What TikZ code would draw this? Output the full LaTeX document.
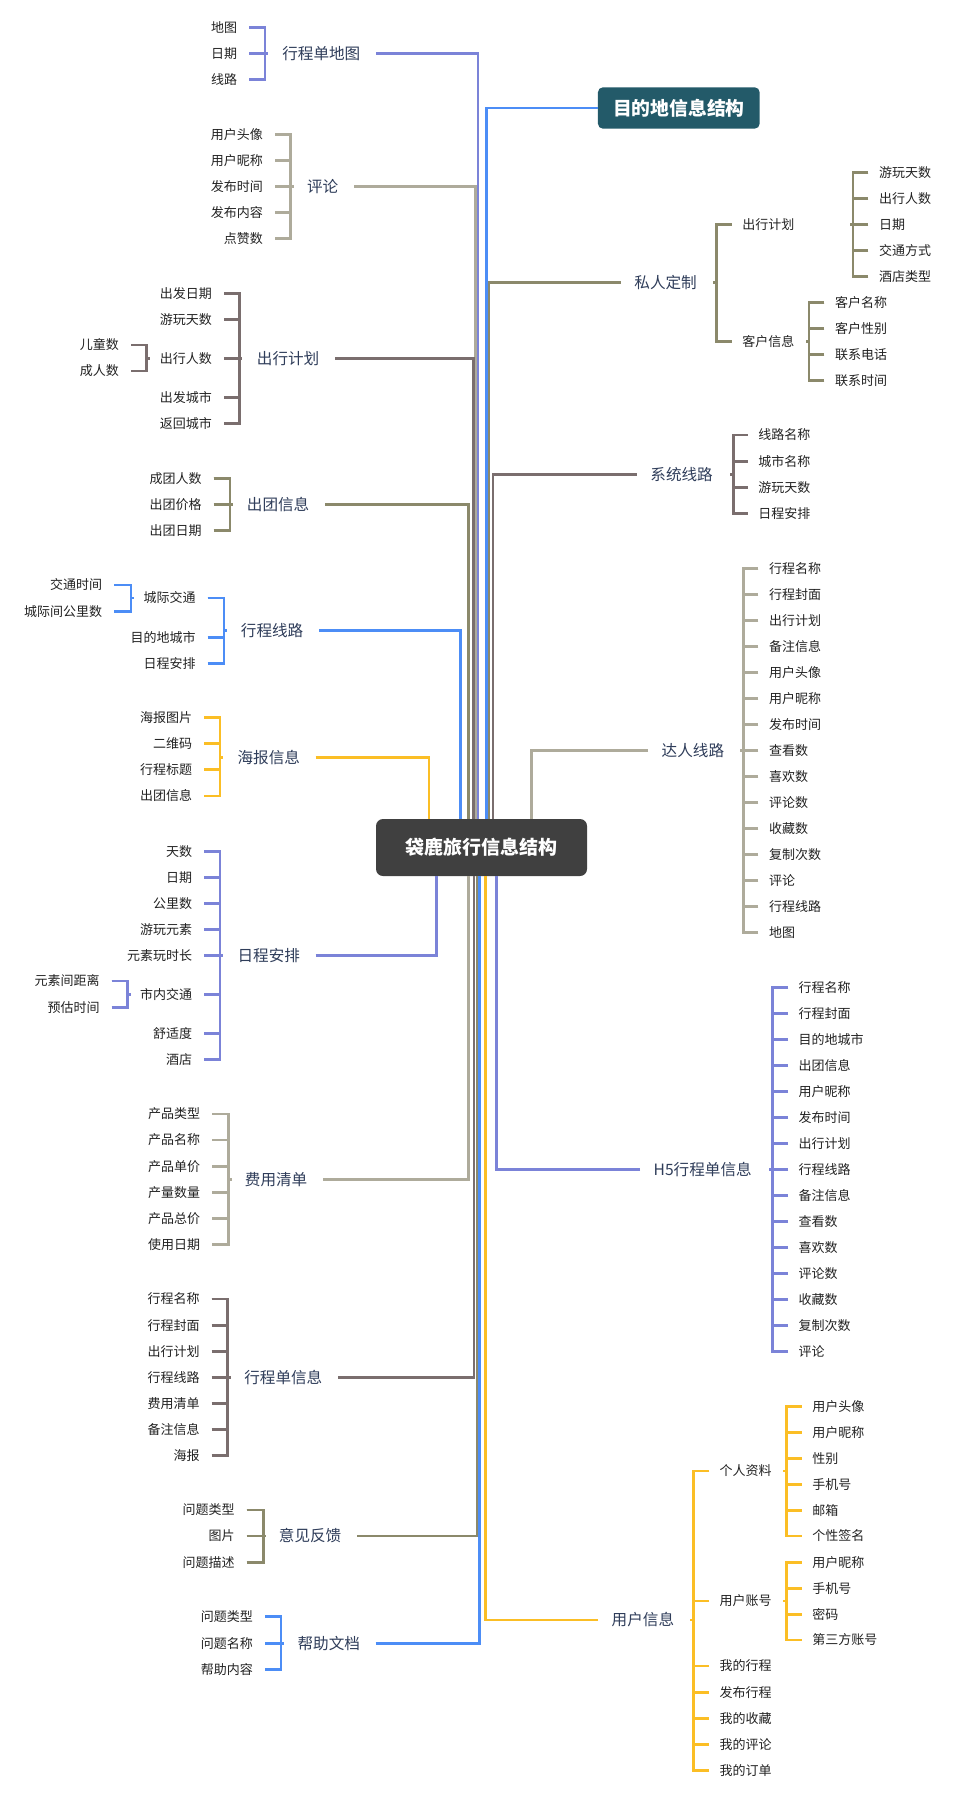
\documentclass[tikz,border=0pt]{standalone}
\usepackage{fontspec}
\setmainfont{Noto Sans CJK SC}
\definecolor{cPur}{HTML}{7B83D8}
\definecolor{cBei}{HTML}{AEAB9B}
\definecolor{cBrn}{HTML}{7A6E6E}
\definecolor{cOli}{HTML}{8B896B}
\definecolor{cBlu}{HTML}{4C8DF6}
\definecolor{cYel}{HTML}{FBBE25}
\definecolor{rootc}{HTML}{404040}
\definecolor{destc}{HTML}{235A69}
\definecolor{leafc}{HTML}{222222}
\definecolor{brc}{HTML}{2F3D5A}
\tikzset{
  conn/.style={line width=2.8pt},
  leafbase/.style={font=\fontsize{13}{15}\selectfont, text=leafc, inner ysep=0pt, text height=11.4pt, text depth=1.6pt},
  leafL/.style={leafbase, anchor=east, inner xsep=12pt},
  leafR/.style={leafbase, anchor=west, inner xsep=10.5pt},
  brbase/.style={font=\fontsize{15.6}{18}\selectfont, text=brc, inner ysep=0pt, text height=13.7pt, text depth=1.9pt},
  brL/.style={brbase, anchor=east, inner xsep=15.5pt},
  brR/.style={brbase, anchor=west, inner xsep=13.5pt},
  rootbox/.style={fill=rootc, rounded corners=7pt, minimum width=211pt, minimum height=57pt, inner sep=0pt, text=white, font=\fontsize{19}{22}\selectfont\bfseries},
  destbox/.style={fill=destc, rounded corners=5pt, minimum width=161.7pt, minimum height=41.4pt, inner sep=0pt, text=white, font=\fontsize{18.8}{22}\selectfont\bfseries},
}
% #1 prefix, #2 colour, #3 leaf x, #4 bracket x, #5 mid y, #6 list y/text, #7 count
\newcommand\mmGroupL[7]{%
  \coordinate (#1m) at (#4,#5);
  \foreach \mmy/\mmt [count=\mmi] in {#6} {
    \node[leafL] (#1-\mmi) at (#3,\mmy) {\mmt};
    \draw[conn,#2] (#1-\mmi.east) -- (#1-\mmi.east -| #1m);
  }
  \draw[conn,#2] (#1-1.east) -| (#1m) |- (#1-#7.east);
  \draw[conn,#2] (#1m) -- ++(3,0);
}
\newcommand\mmGroupR[7]{%
  \coordinate (#1m) at (#4,#5);
  \foreach \mmy/\mmt [count=\mmi] in {#6} {
    \node[leafR] (#1-\mmi) at (#3,\mmy) {\mmt};
    \draw[conn,#2] (#1-\mmi.west) -- (#1-\mmi.west -| #1m);
  }
  \draw[conn,#2] (#1-1.west) -| (#1m) |- (#1-#7.west);
  \draw[conn,#2] (#1m) -- ++(-3.5,0);
}
\begin{document}
\begin{tikzpicture}[x=1pt,y=-1pt]
\useasboundingbox (0,0) rectangle (958,1798);
\fill[white] (0,0) rectangle (958,1798);

\node[rootbox] (root) at (481.5,847.5) {袋鹿旅行信息结构};

% ---------- left, above root ----------
\node[brL] (b1) at (376,53.3) {行程单地图};
\mmGroupL{g1}{cPur}{249.3}{265}{53.3}{27.3/地图,53.3/日期,79.3/线路}{3}
\draw[conn,cPur] (b1.east) -| ([xshift=-3.5pt]root.north);

\node[brL] (b2) at (354,186.7) {评论};
\mmGroupL{g2}{cBei}{275}{290.7}{186.7}{134.7/用户头像,160.7/用户昵称,186.7/发布时间,212.7/发布内容,238.7/点赞数}{5}
\draw[conn,cBei] (b2.east) -| ([xshift=-6pt]root.north);

\node[brL] (b3) at (335,358.7) {出行计划};
\mmGroupL{g3}{cBrn}{224}{239.3}{358.7}{293.3/出发日期,319.3/游玩天数,358.7/出行人数,397.3/出发城市,423.3/返回城市}{5}
\mmGroupL{g3s}{cBrn}{131}{146.7}{358.7}{345/儿童数,371/成人数}{2}
\draw[conn,cBrn] (b3.east) -| ([xshift=-8.2pt]root.north);

\node[brL] (b4) at (325,504.3) {出团信息};
\mmGroupL{g4}{cOli}{213.7}{230}{504.3}{478.3/成团人数,504.3/出团价格,530.3/出团日期}{3}
\draw[conn,cOli] (b4.east) -| ([xshift=-13.2pt]root.north);

\node[brL] (b5) at (319,630.7) {行程线路};
\mmGroupL{g5}{cBlu}{207.7}{224}{630.7}{598/城际交通,637.3/目的地城市,663.3/日程安排}{3}
\mmGroupL{g5s}{cBlu}{114.3}{131}{598}{585/交通时间,611.7/城际间公里数}{2}
\draw[conn,cBlu] (b5.east) -| ([xshift=-21.2pt]root.north);

\node[brL] (b6) at (315.7,757.3) {海报信息};
\mmGroupL{g6}{cYel}{204.3}{220}{757.3}{717.7/海报图片,743.7/二维码,769.7/行程标题,796/出团信息}{4}
\draw[conn,cYel] (b6.east) -| ([xshift=-52.5pt]root.north);

% ---------- left, below root ----------
\node[brL] (b7) at (315.7,955.3) {日程安排};
\mmGroupL{g7}{cPur}{204.3}{220}{955.3}{851.7/天数,877.7/日期,903.5/公里数,929.3/游玩元素,955.3/元素玩时长,994.3/市内交通,1033.3/舒适度,1059.3/酒店}{8}
\mmGroupL{g7s}{cPur}{111.7}{127.7}{994.3}{981/元素间距离,1007.3/预估时间}{2}
\draw[conn,cPur] (b7.east) -| ([xshift=-44.8pt]root.south);

\node[brL] (b8) at (323,1179.3) {费用清单};
\mmGroupL{g8}{cBei}{212.3}{228.7}{1179.3}{1114/产品类型,1140/产品名称,1166.3/产品单价,1192.3/产量数量,1218.3/产品总价,1244.3/使用日期}{6}
\draw[conn,cBei] (b8.east) -| ([xshift=-13.2pt]root.south);

\node[brL] (b9) at (338,1377.3) {行程单信息};
\mmGroupL{g9}{cBrn}{211.7}{227.7}{1377.3}{1299/行程名称,1325.3/行程封面,1351.3/出行计划,1377.3/行程线路,1403.3/费用清单,1429.3/备注信息,1455.7/海报}{7}
\draw[conn,cBrn] (b9.east) -| ([xshift=-7.5pt]root.south);

\node[brL] (b10) at (357,1536) {意见反馈};
\mmGroupL{g10}{cOli}{246.7}{263.3}{1536}{1510/问题类型,1536/图片,1562.3/问题描述}{3}
\draw[conn,cOli] (b10.east) -| ([xshift=-4.2pt]root.south);

\node[brL] (b11) at (375.7,1643.3) {帮助文档};
\mmGroupL{g11}{cBlu}{265}{281}{1643.3}{1616.7/问题类型,1643.3/问题名称,1669.3/帮助内容}{3}
\draw[conn,cBlu] (b11.east) -| ([xshift=-2pt]root.south);

% ---------- right, above root ----------
\node[destbox] (dest) at (678.8,108) {目的地信息结构};
\draw[conn,cBlu] (dest.west) -| ([xshift=5pt]root.north);

\node[brR] (r1) at (620.7,282.7) {私人定制};
\mmGroupR{h1}{cOli}{731.7}{716.3}{282.7}{224.3/出行计划,341.7/客户信息}{2}
\mmGroupR{h1a}{cOli}{868.3}{853}{224.3}{172.7/游玩天数,198.7/出行人数,224.3/日期,250.3/交通方式,276.3/酒店类型}{5}
\mmGroupR{h1b}{cOli}{824.3}{809}{341.7}{302.7/客户名称,328.7/客户性别,354.3/联系电话,380.3/联系时间}{4}
\draw[conn,cOli] (r1.west) -| ([xshift=7.5pt]root.north);

\node[brR] (r2) at (636.7,474.3) {系统线路};
\mmGroupR{h2}{cBrn}{747.7}{733.3}{474.3}{435/线路名称,461.3/城市名称,487.3/游玩天数,513.3/日程安排}{4}
\draw[conn,cBrn] (r2.west) -| ([xshift=11.5pt]root.north);

\node[brR] (r3) at (648,750.3) {达人线路};
\mmGroupR{h3}{cBei}{758.3}{743.3}{750.3}{568.3/行程名称,594.3/行程封面,620.3/出行计划,646.3/备注信息,672.3/用户头像,698.3/用户昵称,724.3/发布时间,750.3/查看数,776.3/喜欢数,802.3/评论数,828.3/收藏数,854.3/复制次数,880.3/评论,906.3/行程线路,932.3/地图}{15}
\draw[conn,cBei] (r3.west) -| ([xshift=49.8pt]root.north);

% ---------- right, below root ----------
\node[brR] (r4) at (640,1169.7) {H5行程单信息};
\mmGroupR{h4}{cPur}{788}{772.3}{1169.7}{987.7/行程名称,1013.7/行程封面,1039.7/目的地城市,1065.7/出团信息,1091.7/用户昵称,1117.7/发布时间,1143.7/出行计划,1169.7/行程线路,1195.7/备注信息,1221.7/查看数,1247.7/喜欢数,1273.7/评论数,1299.7/收藏数,1325.7/复制次数,1351.7/评论}{15}
\draw[conn,cPur] (r4.west) -| ([xshift=14.8pt]root.south);

\node[brR] (r5) at (598,1620) {用户信息};
\mmGroupR{h5}{cYel}{709}{693.3}{1620}{1471/个人资料,1601/用户账号,1666/我的行程,1692.3/发布行程,1718.3/我的收藏,1744.7/我的评论,1770.7/我的订单}{7}
\mmGroupR{h5a}{cYel}{801.7}{786.3}{1471}{1406.7/用户头像,1432.7/用户昵称,1458.7/性别,1484.7/手机号,1510.7/邮箱,1536/个性签名}{6}
\mmGroupR{h5b}{cYel}{801.7}{786.3}{1601}{1562.3/用户昵称,1588.3/手机号,1614.3/密码,1640/第三方账号}{4}
\draw[conn,cYel] (r5.west) -| ([xshift=4.2pt]root.south);
\end{tikzpicture}
\end{document}
